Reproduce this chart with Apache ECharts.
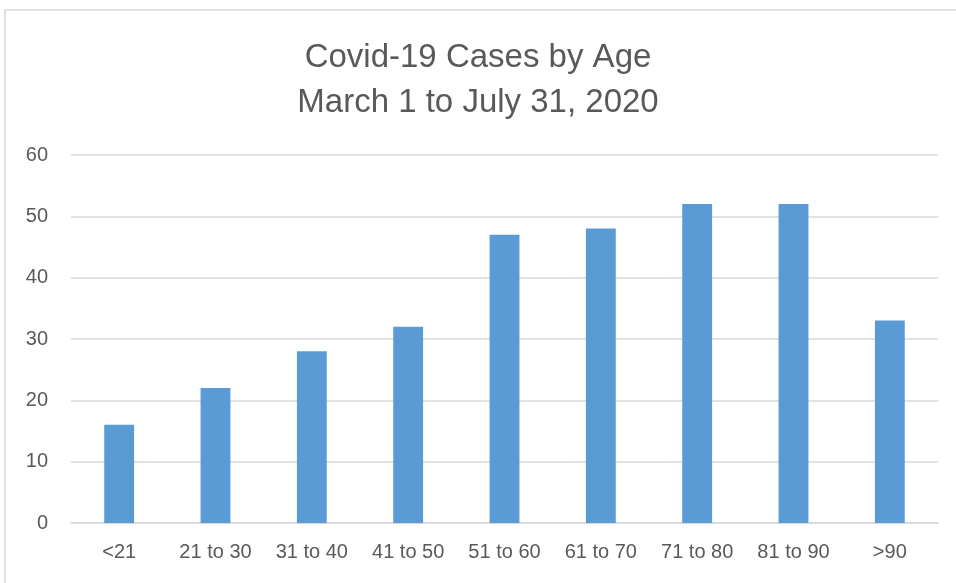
<!DOCTYPE html>
<html>
<head>
<meta charset="utf-8">
<script src="https://cdn.jsdelivr.net/npm/echarts@6/dist/echarts.min.js"></script>
<style>
  html, body { margin: 0; padding: 0; background: #fff; }
  #chart { width: 956px; height: 583px; }
</style>
</head>
<body>
<div id="chart"></div>
<script>
const ageGroups = ['<21', '21 to 30', '31 to 40', '41 to 50', '51 to 60', '61 to 70', '71 to 80', '81 to 90', '>90'];
const cases = [16, 22, 28, 32, 47, 48, 52, 52, 33];
const titleLines = ['Covid-19 Cases by Age', 'March 1 to July 31, 2020'];

const TEXT = '#595959';
const FONT = 'Liberation Sans';

const chart = echarts.init(document.getElementById('chart'));
chart.setOption({
  animation: false,
  textStyle: { fontFamily: FONT },
  graphic: [{
    type: 'rect',
    shape: { x: 5, y: 10, width: 1000, height: 1000 },
    style: { fill: 'none', stroke: '#d9d9d9', lineWidth: 1.5 },
    silent: true
  }],
  title: {
    text: titleLines.join('\n'),
    left: 'center',
    top: 30,
    textStyle: { color: TEXT, fontSize: 33, fontWeight: 'normal', lineHeight: 45, fontFamily: FONT }
  },
  grid: { left: 71, right: 18, top: 155, bottom: 60, containLabel: false },
  xAxis: {
    type: 'category',
    data: ageGroups,
    axisLine: { lineStyle: { color: '#d9d9d9', width: 1.5 } },
    axisTick: { show: false },
    axisLabel: { color: TEXT, fontSize: 20, margin: 19 }
  },
  yAxis: {
    type: 'value',
    min: 0,
    max: 60,
    interval: 10,
    axisLine: { show: false },
    axisTick: { show: false },
    axisLabel: { color: TEXT, fontSize: 20, margin: 23 },
    splitLine: { lineStyle: { color: '#d9d9d9', width: 1.5 } }
  },
  series: [{
    type: 'bar',
    data: cases,
    barWidth: '31%',
    itemStyle: { color: '#5b9bd5' }
  }]
});
</script>
</body>
</html>
